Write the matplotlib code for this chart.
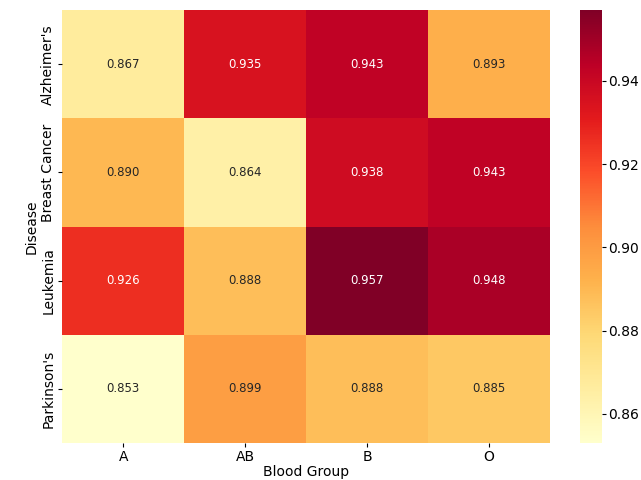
import numpy as np
import pandas as pd
import seaborn as sns
import matplotlib
matplotlib.use("Agg")
import matplotlib.pyplot as plt

diseases = ["Alzheimer's", "Breast Cancer", "Leukemia", "Parkinson's"]
blood_groups = ["A", "AB", "B", "O"]
values = [
    [0.867, 0.935, 0.943, 0.893],
    [0.890, 0.864, 0.938, 0.943],
    [0.926, 0.888, 0.957, 0.948],
    [0.853, 0.899, 0.888, 0.885],
]

df = pd.DataFrame(values, index=diseases, columns=blood_groups)
df.index.name = "Disease"
df.columns.name = "Blood Group"

fig = plt.figure(figsize=(6.41, 4.8), dpi=100)
ax = fig.add_axes([0.097, 0.077, 0.761, 0.902])
cax = fig.add_axes([0.905, 0.077, 0.034, 0.902])

sns.heatmap(df, annot=True, fmt=".3f", cmap="YlOrRd", ax=ax, cbar_ax=cax,
            annot_kws={"fontsize": 8.5})
ax.tick_params(labelsize=10, length=3, pad=2)
cax.tick_params(labelsize=10, length=3, pad=1.5)
ax.set_xlabel("Blood Group", fontsize=10, labelpad=1)
ax.set_ylabel("Disease", fontsize=10, labelpad=2)

fig.savefig("out.png", dpi=100)
